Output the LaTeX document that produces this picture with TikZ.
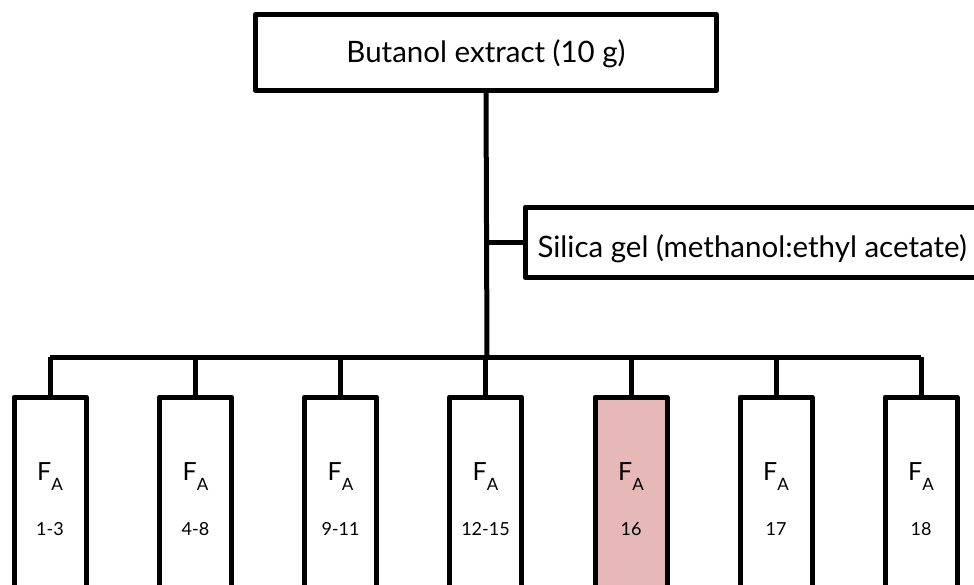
\documentclass[tikz,border=0pt]{standalone}
\usepackage{fontspec}
\setmainfont{Lato}
\definecolor{pinkfill}{RGB}{230,184,183}
\begin{document}
\begin{tikzpicture}[x=1pt,y=-1pt,
  line width=5pt, line join=round,
  bx/.style={draw, rectangle, inner sep=0pt, fill=white},
  frac/.style={bx, minimum width=72pt, minimum height=240pt, anchor=north},
  lbl/.style={inner sep=0pt, anchor=base, font=\fontsize{25}{28}\selectfont},
  num/.style={inner sep=0pt, anchor=base, font=\fontsize{18}{20}\selectfont},
  big/.style={font=\fontsize{29.5}{32}\selectfont}]
\useasboundingbox (0,0) rectangle (974,585);
\clip (0,0) rectangle (974,585);
\node[bx, minimum width=461pt, minimum height=76pt, big] (top) at (486,52.5) {};
\node[inner sep=0pt, anchor=base, big] (toptext) at (486,63) {Butanol extract (10 g)};
\node[bx, minimum width=466pt, minimum height=70pt, anchor=west] (sil) at (522.5,242.5) {};
\node[inner sep=0pt, anchor=base west, big] (siltext) at (535,258) {Silica gel (methanol:ethyl acetate)};
\coordinate (j) at (487,357);
\coordinate (bl) at (50,357);
\coordinate (br) at (921,357);
\draw (top.south) -- (j);
\draw (sil.west) -- (sil.west -| j);
\draw (bl) -- (br);
\foreach \i/\xx/\t in {1/50/1-3, 2/195.5/4-8, 3/340.5/9-11, 4/485.5/12-15, 5/631/16, 6/776/17, 7/921/18} {
  \ifnum\i=5
    \node[frac, fill=pinkfill] (b\i) at (\xx,394.5) {};
  \else
    \node[frac] (b\i) at (\xx,394.5) {};
  \fi
  \draw (b\i.north) -- (b\i.north |- j);
  \node[lbl] (f\i) at (\xx,480) {F\raisebox{-10pt}{\fontsize{17}{17}\selectfont A}};
  \node[num] (n\i) at (\xx,535) {\t};
}
\end{tikzpicture}
\end{document}
